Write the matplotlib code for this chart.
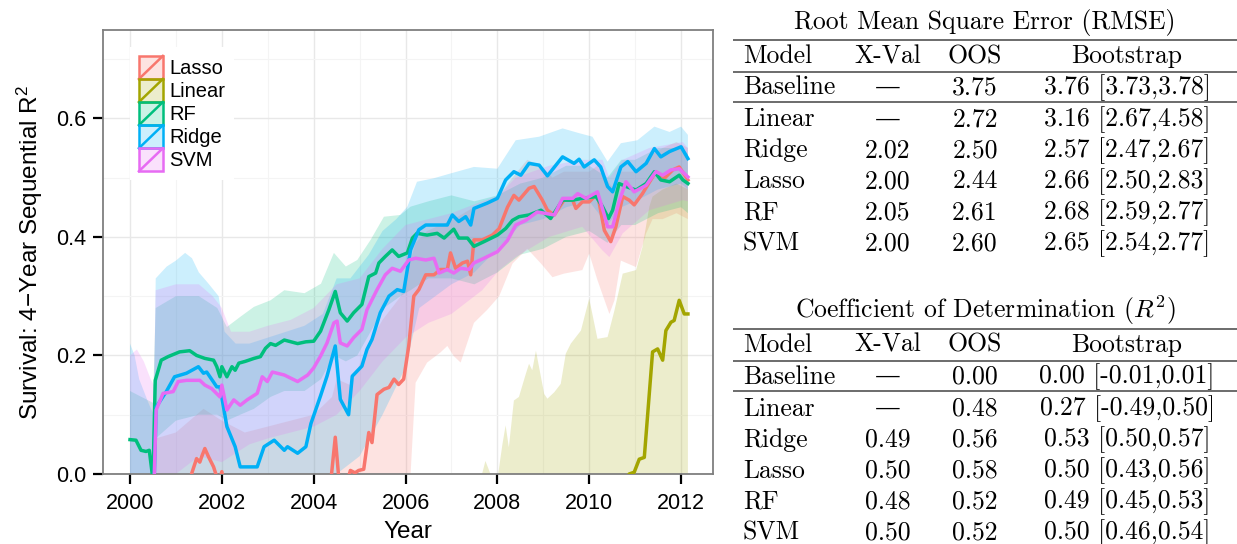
import numpy as np
import matplotlib
matplotlib.use("Agg")
import matplotlib.pyplot as plt
from matplotlib.legend_handler import HandlerBase
from matplotlib.patches import Rectangle
from matplotlib.lines import Line2D
from matplotlib.colors import to_rgba

plt.rcParams["font.family"] = ["Liberation Sans", "DejaVu Sans"]

# ---- plot data: (year, value) pairs ----
MODEL_NAMES = ["Lasso", "Linear", "RF", "Ridge", "SVM"]
MODEL_COLORS = ["#F8766D", "#A3A500", "#00BF7D", "#00B0F6", "#E76BF3"]

LASSO_LINE = [
    (2000.0, -0.15), (2001.25, -0.05), (2001.34, 0.0), (2001.45, 0.026), (2001.52, 0.02),
    (2001.56, 0.029), (2001.63, 0.043), (2001.71, 0.029), (2001.82, 0.012), (2001.89, -0.005),
    (2001.95, -0.01), (2002.0, 0.004), (2002.05, -0.02), (2002.5, -0.1), (2003.5, -0.1),
    (2004.35, -0.03), (2004.47, 0.062), (2004.55, -0.01), (2004.7, -0.02), (2004.8, 0.006),
    (2004.9, 0.002), (2004.98, 0.006), (2005.09, 0.008), (2005.2, 0.07), (2005.27, 0.053),
    (2005.38, 0.134), (2005.53, 0.143), (2005.64, 0.146), (2005.75, 0.16), (2005.85, 0.151),
    (2005.96, 0.16), (2006.07, 0.216), (2006.18, 0.30), (2006.29, 0.311), (2006.44, 0.336),
    (2006.62, 0.336), (2006.76, 0.345), (2006.91, 0.345), (2006.98, 0.373), (2007.09, 0.347),
    (2007.24, 0.356), (2007.35, 0.359), (2007.42, 0.336), (2007.49, 0.395), (2007.67, 0.395),
    (2007.89, 0.403), (2008.04, 0.414), (2008.22, 0.45), (2008.36, 0.47), (2008.47, 0.462),
    (2008.69, 0.482), (2008.8, 0.485), (2008.98, 0.462), (2009.09, 0.445), (2009.24, 0.437),
    (2009.45, 0.462), (2009.64, 0.462), (2009.71, 0.448), (2009.85, 0.459), (2010.0, 0.459),
    (2010.18, 0.473), (2010.33, 0.411), (2010.47, 0.392), (2010.58, 0.417), (2010.73, 0.468),
    (2010.87, 0.462), (2010.98, 0.454), (2011.16, 0.473), (2011.45, 0.51), (2011.64, 0.499),
    (2011.82, 0.513), (2011.96, 0.518), (2012.15, 0.496),
]
LASSO_HI = [
    (2000.0, -0.1), (2000.5, -0.1), (2000.56, 0.06), (2001.0, 0.07), (2001.3, 0.09),
    (2001.6, 0.11), (2002.0, 0.09), (2002.5, 0.07), (2003.0, 0.08), (2003.5, 0.09),
    (2004.0, 0.1), (2004.4, 0.13), (2004.5, 0.16), (2004.8, 0.15), (2005.2, 0.22),
    (2005.5, 0.26), (2005.9, 0.3), (2006.11, 0.36), (2006.22, 0.39), (2006.47, 0.41),
    (2006.76, 0.42), (2007.05, 0.43), (2007.49, 0.45), (2007.78, 0.46), (2008.04, 0.47),
    (2008.33, 0.5), (2008.65, 0.53), (2008.95, 0.52), (2009.2, 0.5), (2009.45, 0.51),
    (2010.0, 0.51), (2010.18, 0.52), (2010.44, 0.49), (2010.55, 0.48), (2010.69, 0.51),
    (2011.02, 0.51), (2011.24, 0.52), (2011.38, 0.54), (2011.6, 0.55), (2011.9, 0.56),
    (2012.15, 0.55),
]
LASSO_LO = [
    (2000.0, -0.3), (2005.9, -0.1), (2006.11, 0.0), (2006.22, 0.154), (2006.47, 0.188),
    (2006.76, 0.205), (2006.91, 0.216), (2007.05, 0.199), (2007.2, 0.188), (2007.49, 0.255),
    (2007.78, 0.277), (2008.04, 0.3), (2008.33, 0.355), (2008.65, 0.38), (2008.95, 0.355),
    (2009.2, 0.332), (2009.45, 0.338), (2009.85, 0.344), (2010.0, 0.372), (2010.18, 0.327),
    (2010.44, 0.27), (2010.55, 0.293), (2010.69, 0.36), (2011.02, 0.349), (2011.24, 0.406),
    (2011.38, 0.43), (2011.6, 0.43), (2011.9, 0.44), (2012.15, 0.43),
]

LINEAR_LINE = [
    (2000.0, -0.3), (2010.8, -0.02), (2010.87, 0.0), (2010.98, 0.003), (2011.09, 0.025),
    (2011.2, 0.028), (2011.38, 0.206), (2011.49, 0.211), (2011.6, 0.192), (2011.67, 0.242),
    (2011.78, 0.256), (2011.85, 0.259), (2011.96, 0.293), (2012.07, 0.27), (2012.15, 0.27),
]
LINEAR_HI = [
    (2000.0, -0.2), (2007.6, -0.02), (2007.74, 0.022), (2007.85, 0.0), (2008.0, -0.01),
    (2008.11, 0.05), (2008.18, 0.082), (2008.25, 0.045), (2008.36, 0.124), (2008.47, 0.13),
    (2008.62, 0.169), (2008.69, 0.186), (2008.76, 0.175), (2008.84, 0.208), (2009.02, 0.135),
    (2009.09, 0.127), (2009.24, 0.138), (2009.38, 0.152), (2009.49, 0.203), (2009.6, 0.22),
    (2009.82, 0.242), (2010.0, 0.296), (2010.18, 0.228), (2010.4, 0.231), (2010.55, 0.276),
    (2010.73, 0.338), (2011.02, 0.344), (2011.16, 0.383), (2011.31, 0.451), (2011.38, 0.468),
    (2011.6, 0.48), (2011.9, 0.49), (2012.15, 0.48),
]
LINEAR_LO = [(2000.0, -1.0), (2012.15, -1.0)]

RF_LINE = [
    (2000.0, 0.058), (2000.13, 0.057), (2000.24, 0.04), (2000.35, 0.038), (2000.42, 0.04),
    (2000.5, -0.01), (2000.55, 0.158), (2000.68, 0.192), (2000.83, 0.198), (2001.08, 0.206),
    (2001.3, 0.208), (2001.45, 0.2), (2001.63, 0.195), (2001.82, 0.192), (2001.89, 0.181),
    (2001.96, 0.164), (2002.0, 0.181), (2002.11, 0.164), (2002.22, 0.181), (2002.29, 0.175),
    (2002.37, 0.187), (2002.51, 0.19), (2002.7, 0.195), (2002.84, 0.198), (2002.95, 0.212),
    (2003.06, 0.22), (2003.17, 0.217), (2003.36, 0.226), (2003.65, 0.22), (2003.83, 0.223),
    (2004.0, 0.224), (2004.15, 0.241), (2004.33, 0.277), (2004.47, 0.308), (2004.58, 0.272),
    (2004.73, 0.258), (2004.87, 0.272), (2005.05, 0.286), (2005.2, 0.333), (2005.35, 0.339),
    (2005.42, 0.356), (2005.56, 0.367), (2005.71, 0.378), (2005.85, 0.367), (2006.04, 0.373),
    (2006.15, 0.398), (2006.25, 0.406), (2006.47, 0.403), (2006.69, 0.406), (2006.84, 0.398),
    (2007.05, 0.413), (2007.16, 0.398), (2007.35, 0.398), (2007.49, 0.384), (2007.71, 0.392),
    (2008.0, 0.403), (2008.18, 0.414), (2008.33, 0.428), (2008.47, 0.434), (2008.69, 0.437),
    (2008.95, 0.445), (2009.16, 0.431), (2009.42, 0.462), (2009.64, 0.462), (2009.85, 0.465),
    (2010.15, 0.468), (2010.29, 0.451), (2010.42, 0.431), (2010.51, 0.445), (2010.65, 0.49),
    (2010.8, 0.485), (2011.02, 0.479), (2011.24, 0.49), (2011.42, 0.51), (2011.56, 0.496),
    (2011.75, 0.493), (2011.96, 0.504), (2012.04, 0.496), (2012.15, 0.49),
]
RF_HI = [
    (2000.0, 0.14), (2000.5, 0.12), (2000.56, 0.28), (2001.0, 0.3), (2001.5, 0.3),
    (2001.9, 0.28), (2002.11, 0.248), (2002.4, 0.265), (2002.7, 0.282), (2003.06, 0.293),
    (2003.36, 0.31), (2003.8, 0.305), (2004.16, 0.321), (2004.44, 0.373), (2004.7, 0.35),
    (2004.95, 0.361), (2005.24, 0.395), (2005.53, 0.434), (2005.89, 0.437), (2006.11, 0.451),
    (2006.5, 0.46), (2007.0, 0.47), (2007.5, 0.46), (2008.0, 0.47), (2008.5, 0.49),
    (2009.0, 0.5), (2009.5, 0.52), (2010.0, 0.52), (2010.4, 0.5), (2010.7, 0.53),
    (2011.0, 0.53), (2011.5, 0.55), (2012.0, 0.55), (2012.15, 0.54),
]
RF_LO = [
    (2000.0, -0.05), (2000.5, -0.05), (2000.56, 0.06), (2001.0, 0.09), (2001.5, 0.1),
    (2001.9, 0.1), (2002.11, 0.09), (2002.4, 0.1), (2002.7, 0.11), (2003.06, 0.13),
    (2003.36, 0.14), (2003.8, 0.14), (2004.16, 0.16), (2004.44, 0.2), (2004.7, 0.19),
    (2004.95, 0.2), (2005.24, 0.24), (2005.53, 0.28), (2005.89, 0.3), (2006.11, 0.31),
    (2006.5, 0.33), (2007.0, 0.33), (2007.5, 0.32), (2008.0, 0.34), (2008.5, 0.37),
    (2009.0, 0.38), (2009.5, 0.4), (2010.0, 0.41), (2010.4, 0.39), (2010.7, 0.42),
    (2011.0, 0.42), (2011.5, 0.44), (2012.0, 0.45), (2012.15, 0.44),
]

RIDGE_LINE = [
    (2000.0, -0.1), (2000.5, -0.1), (2000.53, 0.0), (2000.57, 0.113), (2000.79, 0.139),
    (2000.97, 0.164), (2001.23, 0.17), (2001.49, 0.181), (2001.6, 0.17), (2001.67, 0.172),
    (2001.89, 0.147), (2001.96, 0.147), (2002.11, 0.08), (2002.29, 0.046), (2002.4, 0.012),
    (2002.55, 0.012), (2002.77, 0.012), (2002.92, 0.046), (2003.14, 0.057), (2003.36, 0.04),
    (2003.43, 0.046), (2003.65, 0.035), (2003.83, 0.046), (2003.94, 0.085), (2004.15, 0.132),
    (2004.29, 0.165), (2004.47, 0.216), (2004.58, 0.126), (2004.76, 0.10), (2004.84, 0.165),
    (2005.05, 0.182), (2005.16, 0.21), (2005.27, 0.227), (2005.45, 0.272), (2005.64, 0.30),
    (2005.82, 0.311), (2005.96, 0.308), (2006.11, 0.378), (2006.29, 0.412), (2006.44, 0.42),
    (2006.91, 0.42), (2007.02, 0.437), (2007.16, 0.426), (2007.31, 0.434), (2007.42, 0.42),
    (2007.49, 0.448), (2007.78, 0.457), (2008.0, 0.465), (2008.18, 0.496), (2008.36, 0.51),
    (2008.51, 0.504), (2008.69, 0.524), (2008.91, 0.521), (2009.09, 0.503), (2009.42, 0.535),
    (2009.67, 0.524), (2009.78, 0.531), (2009.89, 0.518), (2010.11, 0.53), (2010.25, 0.518),
    (2010.4, 0.485), (2010.51, 0.476), (2010.69, 0.518), (2010.84, 0.527), (2011.02, 0.51),
    (2011.24, 0.524), (2011.42, 0.549), (2011.56, 0.535), (2011.75, 0.544), (2012.0, 0.552),
    (2012.15, 0.532),
]
RIDGE_HI = [
    (2000.0, 0.22), (2000.1, 0.2), (2000.2, 0.16), (2000.4, 0.12), (2000.52, 0.1),
    (2000.56, 0.33), (2000.8, 0.35), (2001.0, 0.36), (2001.2, 0.373), (2001.35, 0.364),
    (2001.5, 0.34), (2001.7, 0.322), (2001.93, 0.30), (2002.06, 0.24), (2002.3, 0.22),
    (2002.6, 0.22), (2003.0, 0.23), (2003.4, 0.24), (2003.8, 0.25), (2004.2, 0.27),
    (2004.5, 0.33), (2004.8, 0.33), (2005.2, 0.37), (2005.5, 0.41), (2005.8, 0.43),
    (2006.04, 0.451), (2006.25, 0.493), (2006.62, 0.499), (2006.98, 0.507), (2007.49, 0.518),
    (2008.0, 0.515), (2008.4, 0.563), (2008.91, 0.569), (2009.42, 0.583), (2009.78, 0.575),
    (2010.07, 0.569), (2010.4, 0.527), (2010.69, 0.558), (2011.05, 0.563), (2011.42, 0.586),
    (2011.75, 0.577), (2012.0, 0.586), (2012.15, 0.572),
]
RIDGE_LO = [
    (2000.0, -0.2), (2004.0, -0.03), (2004.5, 0.0), (2005.0, 0.03), (2005.5, 0.1),
    (2006.0, 0.18), (2006.3, 0.28), (2007.0, 0.32), (2007.5, 0.34), (2008.0, 0.38),
    (2008.5, 0.42), (2009.0, 0.43), (2009.5, 0.45), (2010.0, 0.46), (2010.4, 0.42),
    (2010.7, 0.45), (2011.0, 0.46), (2011.5, 0.48), (2012.0, 0.49), (2012.15, 0.48),
]

SVM_LINE = [
    (2000.0, -0.1), (2000.5, -0.1), (2000.53, 0.0), (2000.57, 0.108), (2000.72, 0.136),
    (2000.94, 0.139), (2001.05, 0.156), (2001.23, 0.158), (2001.52, 0.158), (2001.63, 0.15),
    (2001.78, 0.144), (2001.96, 0.13), (2002.0, 0.15), (2002.11, 0.108), (2002.26, 0.125),
    (2002.4, 0.116), (2002.55, 0.125), (2002.77, 0.136), (2002.88, 0.164), (2002.99, 0.156),
    (2003.1, 0.172), (2003.36, 0.167), (2003.65, 0.156), (2003.87, 0.167), (2004.0, 0.179),
    (2004.15, 0.199), (2004.29, 0.221), (2004.44, 0.255), (2004.51, 0.258), (2004.58, 0.221),
    (2004.73, 0.216), (2004.87, 0.23), (2005.05, 0.244), (2005.16, 0.277), (2005.38, 0.311),
    (2005.56, 0.336), (2005.71, 0.347), (2005.89, 0.342), (2006.07, 0.361), (2006.22, 0.364),
    (2006.44, 0.361), (2006.62, 0.364), (2006.73, 0.339), (2006.91, 0.345), (2007.05, 0.339),
    (2007.2, 0.347), (2007.38, 0.345), (2007.49, 0.356), (2007.71, 0.364), (2008.0, 0.375),
    (2008.22, 0.394), (2008.4, 0.42), (2008.62, 0.428), (2008.87, 0.442), (2009.09, 0.439),
    (2009.24, 0.437), (2009.42, 0.465), (2009.64, 0.465), (2009.75, 0.473), (2009.93, 0.465),
    (2010.18, 0.476), (2010.33, 0.437), (2010.4, 0.417), (2010.51, 0.417), (2010.65, 0.459),
    (2010.8, 0.493), (2010.98, 0.476), (2011.24, 0.487), (2011.45, 0.51), (2011.6, 0.504),
    (2011.78, 0.513), (2011.96, 0.515), (2012.15, 0.501),
]
SVM_HI = [
    (2000.0, 0.2), (2000.15, 0.21), (2000.3, 0.19), (2000.45, 0.16), (2000.52, 0.15),
    (2000.56, 0.31), (2001.0, 0.32), (2001.5, 0.32), (2001.8, 0.3), (2002.0, 0.28),
    (2002.2, 0.24), (2002.6, 0.24), (2003.0, 0.25), (2003.5, 0.26), (2004.0, 0.28),
    (2004.5, 0.32), (2005.0, 0.33), (2005.5, 0.38), (2006.0, 0.42), (2006.5, 0.43),
    (2007.0, 0.44), (2007.67, 0.46), (2008.04, 0.47), (2008.4, 0.5), (2009.13, 0.52),
    (2009.85, 0.53), (2010.29, 0.53), (2010.44, 0.5), (2010.73, 0.53), (2011.31, 0.55),
    (2012.04, 0.56), (2012.15, 0.55),
]
SVM_LO = [
    (2000.0, -0.1), (2000.52, -0.1), (2000.56, -0.02), (2001.0, 0.0), (2001.5, 0.03),
    (2002.0, 0.02), (2002.6, 0.05), (2003.0, 0.06), (2003.5, 0.07), (2004.0, 0.08),
    (2004.5, 0.1), (2005.0, 0.14), (2005.5, 0.19), (2006.0, 0.23), (2006.5, 0.255),
    (2007.0, 0.27), (2007.67, 0.31), (2008.04, 0.344), (2008.4, 0.366), (2009.13, 0.4),
    (2009.85, 0.417), (2010.29, 0.377), (2010.44, 0.366), (2010.73, 0.406), (2011.31, 0.445),
    (2012.04, 0.462), (2012.15, 0.46),
]

LINES = [LASSO_LINE, LINEAR_LINE, RF_LINE, RIDGE_LINE, SVM_LINE]
HIS = [LASSO_HI, LINEAR_HI, RF_HI, RIDGE_HI, SVM_HI]
LOS = [LASSO_LO, LINEAR_LO, RF_LO, RIDGE_LO, SVM_LO]

# ---- table data ----
TABLE_MODELS = ["Baseline", "Linear", "Ridge", "Lasso", "RF", "SVM"]
RMSE_XVAL = [None, None, 2.02, 2.00, 2.05, 2.00]
RMSE_OOS = [3.75, 2.72, 2.50, 2.44, 2.61, 2.60]
RMSE_BOOT = [3.76, 3.16, 2.57, 2.66, 2.68, 2.65]
RMSE_BOOT_LO = [3.73, 2.67, 2.47, 2.50, 2.59, 2.54]
RMSE_BOOT_HI = [3.78, 4.58, 2.67, 2.83, 2.77, 2.77]
R2_XVAL = [None, None, 0.49, 0.50, 0.48, 0.50]
R2_OOS = [0.00, 0.48, 0.56, 0.58, 0.52, 0.52]
R2_BOOT = [0.00, 0.27, 0.53, 0.50, 0.49, 0.50]
R2_BOOT_LO = [-0.01, -0.49, 0.50, 0.43, 0.45, 0.46]
R2_BOOT_HI = [0.01, 0.50, 0.57, 0.56, 0.53, 0.54]


class RibbonKey(HandlerBase):
    def create_artists(self, legend, orig_handle, xdescent, ydescent,
                       width, height, fontsize, trans):
        c = orig_handle.get_color()
        x0, y0 = -xdescent, -ydescent
        box = Rectangle((x0, y0), width, height, facecolor=to_rgba(c, 0.2),
                        edgecolor=c, lw=1.8, transform=trans)
        diag = Line2D([x0, x0 + width], [y0, y0 + height], color=c, lw=1.8,
                      transform=trans)
        return [box, diag]


W, H = 1237, 544
fig = plt.figure(figsize=(W / 100, H / 100), dpi=100)

# ---- left: time series panel ----
ax = fig.add_axes([103 / W, (H - 474) / H, 610 / W, 444 / H])
handles = []
for color, hi, lo in zip(MODEL_COLORS, HIS, LOS):
    hx, hy = np.array(hi).T
    lx, ly = np.array(lo).T
    ax.fill(np.r_[hx, lx[::-1]], np.r_[hy, ly[::-1]], color=color, alpha=0.2,
            lw=0, zorder=2)
for color, line in zip(MODEL_COLORS, LINES):
    x, y = np.array(line).T
    h, = ax.plot(x, y, color=color, lw=2.5, zorder=3, solid_joinstyle="round")
    handles.append(h)

ax.set_xlim(1999.412, 2012.696)
ax.set_ylim(0, 0.749)
ax.set_xticks(np.arange(2000, 2013, 2))
ax.set_xticks(np.arange(2001, 2013, 2), minor=True)
ax.set_yticks([0.0, 0.2, 0.4, 0.6])
ax.set_yticks([0.1, 0.3, 0.5, 0.7], minor=True)
ax.yaxis.set_major_formatter(plt.FormatStrFormatter("%.1f"))
ax.grid(which="major", color="#E8E8E8", lw=1.0, zorder=0)
ax.grid(which="minor", color="#F4F4F4", lw=0.8, zorder=0)
ax.set_axisbelow(True)
for s in ax.spines.values():
    s.set_color("#7F7F7F")
    s.set_linewidth(1.3)
ax.tick_params(which="major", direction="out", length=7, width=1.6, color="black",
               labelsize=15.5)
ax.tick_params(axis="x", pad=7)
ax.tick_params(axis="y", pad=5)
ax.tick_params(which="minor", length=0)
ax.set_xlabel("Year", fontsize=17.5, labelpad=5)
ax.set_ylabel("Survival: 4\u2212Year Sequential $\\mathregular{R^2}$", fontsize=17.5,
              labelpad=8)

leg = ax.legend(handles, MODEL_NAMES, handler_map={Line2D: RibbonKey()},
                loc="upper left", bbox_to_anchor=(0.044, 0.962), borderaxespad=0,
                borderpad=0.45, labelspacing=0.0, handlelength=1.19, handleheight=1.385,
                handletextpad=0.3, fontsize=14.5, frameon=True, fancybox=False,
                framealpha=1, edgecolor="none")

# ---- right: two tables drawn in pixel coordinates ----
tx = fig.add_axes([0, 0, 1, 1], facecolor="none")
tx.set_xlim(0, W)
tx.set_ylim(H, 0)
tx.axis("off")

SERIF = ["cmr10", "DejaVu Serif"]
FS = 18.5
COL_MODEL, COL_XVAL, COL_OOS, COL_BOOT = 743, 888, 975, 1127
RULE_X0, RULE_X1 = 733, 1237


def draw_table(top, title, xval, oos, boot, lo, hi):
    tx.text(985, top - 11, title, fontsize=FS, family=SERIF, ha="center",
            va="baseline", math_fontfamily="cm")
    for yy in (top, top + 32, top + 62):
        tx.plot([RULE_X0, RULE_X1], [yy, yy], color="#444444", lw=1.1,
                solid_capstyle="butt")
    hb = top + 23
    tx.text(COL_MODEL, hb, "Model", fontsize=FS, family=SERIF, va="baseline")
    tx.text(COL_XVAL, hb, "X-Val", fontsize=FS, family=SERIF, va="baseline", ha="center")
    tx.text(COL_OOS, hb, "OOS", fontsize=FS, family=SERIF, va="baseline", ha="center")
    tx.text(COL_BOOT, hb, "Bootstrap", fontsize=FS, family=SERIF, va="baseline",
            ha="center")
    for i, m in enumerate(TABLE_MODELS):
        yb = top + 54.5 + i * 31 + (1 if i > 0 else 0)
        tx.text(COL_MODEL, yb, m, fontsize=FS, family=SERIF, va="baseline")
        xv = "\u2014" if xval[i] is None else f"{xval[i]:.2f}"
        tx.text(COL_XVAL, yb, xv, fontsize=FS, family=SERIF, va="baseline", ha="center")
        tx.text(COL_OOS, yb, f"{oos[i]:.2f}", fontsize=FS, family=SERIF, va="baseline",
                ha="center")
        tx.text(COL_BOOT, yb, f"{boot[i]:.2f} [{lo[i]:.2f},{hi[i]:.2f}]", fontsize=FS,
                family=SERIF, va="baseline", ha="center")


draw_table(40, "Root Mean Square Error (RMSE)", RMSE_XVAL, RMSE_OOS, RMSE_BOOT,
           RMSE_BOOT_LO, RMSE_BOOT_HI)
draw_table(329, "Coefficient of Determination ($R^2$)", R2_XVAL, R2_OOS, R2_BOOT,
           R2_BOOT_LO, R2_BOOT_HI)

fig.savefig("out.png", dpi=100)
